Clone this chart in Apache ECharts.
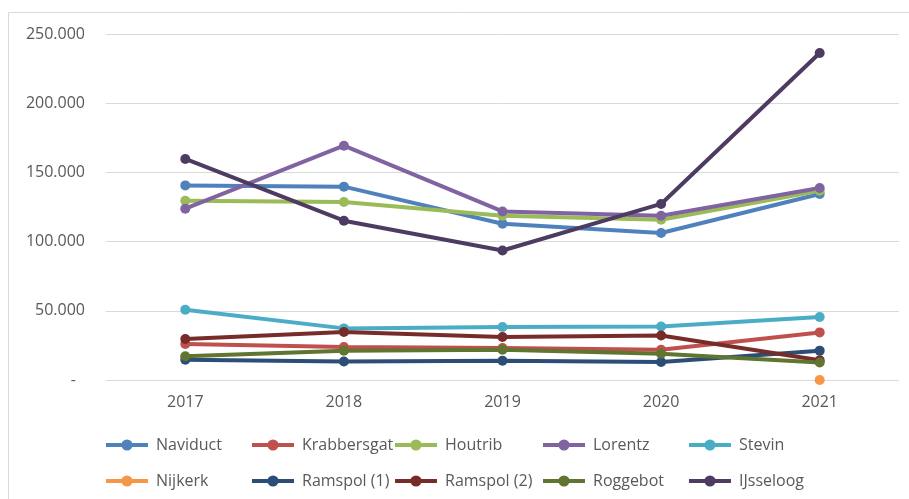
<!DOCTYPE html>
<html>
<head>
<meta charset="utf-8">
<script src="https://cdn.jsdelivr.net/npm/echarts@6/dist/echarts.min.js"></script>
<style>
  html, body { margin: 0; padding: 0; background: #ffffff; }
  #chart { width: 909px; height: 499px; }
</style>
</head>
<body>
<div id="chart"></div>
<script>
// Yearly passages per lock / bridge
const years = ['2017', '2018', '2019', '2020', '2021'];

const naviduct    = [140600, 139700, 112900, 106200, 134400];
const krabbersgat = [26000, 23800, 23100, 21900, 34400];
const houtrib     = [129500, 128600, 118700, 115800, 136800];
const lorentz     = [123800, 169300, 121800, 118700, 138700];
const stevin      = [50800, 37300, 38300, 38700, 45500];
const nijkerk     = [null, null, null, null, 0];
const ramspol1    = [14700, 13400, 13900, 13000, 21200];
const ramspol2    = [29600, 34700, 31100, 32200, 14200];
const roggebot    = [17100, 21200, 21900, 19000, 12700];
const ijsseloog   = [159700, 115100, 93600, 127200, 236300];

const seriesNames  = ['Naviduct', 'Krabbersgat', 'Houtrib', 'Lorentz', 'Stevin',
                      'Nijkerk', 'Ramspol (1)', 'Ramspol (2)', 'Roggebot', 'IJsseloog'];
const seriesValues = [naviduct, krabbersgat, houtrib, lorentz, stevin,
                      nijkerk, ramspol1, ramspol2, roggebot, ijsseloog];
const seriesColors = ['#4F81BD', '#C0504D', '#9BBB59', '#8064A2', '#4BACC6',
                      '#F79646', '#2C4D75', '#772C2A', '#5F7530', '#4D3B62'];

const labelColor = '#595959';
const fontFamily = '"Open Sans", "Liberation Sans", sans-serif';

const chart = echarts.init(document.getElementById('chart'), null, { renderer: 'canvas' });

// Legend laid out as five columns of two entries each
const legendLefts = [104, 250, 393, 541, 687];
const legends = legendLefts.map((left, i) => ({
  orient: 'vertical',
  left: left,
  top: 437,
  padding: 0,
  itemWidth: 42,
  itemHeight: 14,
  itemGap: 20,
  lineStyle: { width: 4 },
  data: [seriesNames[i], seriesNames[i + 5]],
  textStyle: { color: labelColor, fontSize: 16, fontFamily: fontFamily, padding: [0, 0, 0, 3] }
}));

// Thousands separator with a dot; zero shown as a dash
function formatThousands(v) {
  if (v === 0) return '{z|-}';
  return String(v).replace(/\B(?=(\d{3})+(?!\d))/g, '.');
}

const option = {
  animation: false,
  color: seriesColors,
  graphic: [{
    type: 'rect',
    shape: { x: 8.5, y: 12.5, width: 920, height: 520 },
    style: { fill: 'none', stroke: '#d9d9d9', lineWidth: 1 },
    silent: true,
    z: -1
  }],
  legend: legends,
  grid: { left: 106, right: 10, top: 34, bottom: 119, containLabel: false },
  xAxis: {
    type: 'category',
    data: years,
    boundaryGap: true,
    axisLine: { show: false, lineStyle: { color: 'rgba(0,0,0,0)' } },
    axisTick: { show: false, lineStyle: { color: 'rgba(0,0,0,0)', width: 0 } },
    splitLine: { show: false, lineStyle: { color: 'rgba(0,0,0,0)', width: 0 } },
    axisLabel: { color: labelColor, fontSize: 16, fontFamily: fontFamily, margin: 14 }
  },
  yAxis: {
    type: 'value',
    min: 0,
    max: 250000,
    interval: 50000,
    axisLine: { show: false },
    axisTick: { show: false },
    splitLine: { lineStyle: { color: '#d9d9d9', width: 1 } },
    axisLabel: {
      color: labelColor,
      fontSize: 16,
      fontFamily: fontFamily,
      margin: 21,
      formatter: formatThousands,
      rich: { z: { color: labelColor, fontSize: 16, fontFamily: fontFamily, padding: [0, 9, 0, 0] } }
    }
  },
  series: seriesNames.map((name, i) => ({
    name: name,
    type: 'line',
    data: seriesValues[i],
    symbol: 'circle',
    symbolSize: 10,
    showAllSymbol: true,
    connectNulls: false,
    lineStyle: { width: 4 },
    emphasis: { disabled: true }
  }))
};

chart.setOption(option);
</script>
</body>
</html>
